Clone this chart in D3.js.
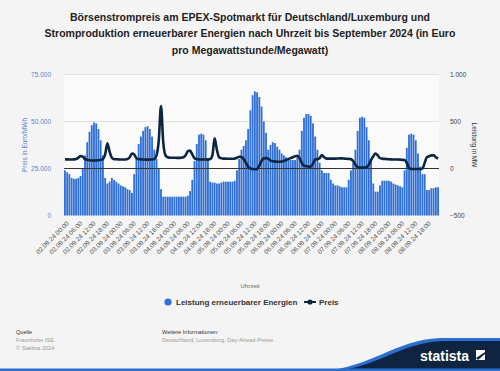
<!DOCTYPE html>
<meta charset="utf-8">
<style>
  body { margin: 0; background: #f4f4f4; font-family: "Liberation Sans", Arial, sans-serif; }
  svg text { font-family: "Liberation Sans", Arial, sans-serif; }
</style>
<script src="https://d3js.org/d3.v7.min.js"></script>
<body>
<script>
// days shown, hourly values
var days = ["02.09.24", "03.09.24", "04.09.24", "05.09.24", "06.09.24", "07.09.24", "08.09.24"];

// Leistung erneuerbarer Energien (left axis), one value per hour
var leistung = [
  24000, 23000, 22000, 20000, 19500, 19500, 20000, 21000, 25000, 32000, 39000, 44500, 48000, 49500, 49000, 46000, 40000, 32000, 20000, 17000, 18000, 20000, 19000, 18000,
  17000, 16000, 15500, 15000, 14000, 13500, 12000, 22000, 30000, 38000, 42000, 45000, 47000, 47500, 46000, 42000, 35000, 30000, 25000, 14000, 10000, 10000, 10000, 10000,
  10000, 10000, 10000, 10000, 10000, 10000, 10000, 10500, 13000, 19000, 29000, 38000, 43000, 43500, 43000, 40000, 30000, 18000, 17500, 17500, 17000, 17000, 17500, 18000,
  18000, 18000, 18000, 18000, 18500, 24000, 30000, 35000, 37000, 40000, 46000, 56000, 64000, 66000, 65500, 63000, 58000, 50000, 44000, 35000, 37500, 39000, 38500, 36600,
  35000, 33000, 32000, 31000, 29500, 29500, 29500, 29500, 31000, 35000, 45000, 52000, 54000, 54000, 53000, 49000, 42000, 35000, 28000, 24000, 22600, 22600, 22600, 19000,
  17000, 16000, 16000, 15500, 15000, 15000, 15000, 19000, 24000, 28000, 35000, 45000, 52000, 52500, 52000, 47000, 40000, 30000, 17000, 12700, 12700, 16000, 18500, 18500,
  18500, 18500, 18000, 17000, 16500, 16000, 15500, 15000, 24000, 36000, 43000, 43500, 43000, 40000, 33000, 26000, 22000, 22000, 13500, 13500, 14500, 14500, 15000, 15000
];

// Preis (right axis), one value per hour
var preis = [
  98, 97, 96, 96, 97, 100, 115, 133, 125, 100, 92, 88, 85, 85, 86, 88, 92, 100, 150, 268, 180, 115, 100, 98,
  97, 96, 95, 96, 100, 120, 160, 150, 110, 100, 98, 96, 94, 94, 95, 96, 100, 140, 300, 665, 280, 140, 120, 115,
  115, 114, 113, 113, 115, 120, 140, 185, 190, 150, 110, 100, 97, 95, 95, 96, 97, 100, 140, 320, 200, 120, 108, 105,
  105, 104, 104, 104, 106, 115, 125, 122, 100, 60, 20, 0, -5, -8, -5, 30, 80, 108, 110, 105, 85, 78, 75, 72,
  72, 75, 80, 90, 100, 110, 120, 130, 135, 110, 60, 30, 25, 20, 20, 50, 96, 100, 110, 144, 120, 105, 105, 105,
  105, 105, 106, 108, 108, 105, 104, 102, 100, 80, 40, 15, 10, 10, 12, 15, 40, 90, 130, 160, 140, 110, 105, 102,
  100, 98, 97, 96, 95, 95, 94, 92, 90, 60, 5, -5, -5, -5, -5, -5, 0, 60, 120, 130, 140, 140, 120, 105
];

var leftTicks = [0, 25000, 50000, 75000];
var rightTicks = [-500, 0, 500, 1000];

var hours = [];
days.forEach(function(d) {
  for (var h = 0; h < 24; h++) hours.push(d + " " + (h < 10 ? "0" : "") + h + ":00");
});

var width = 500, height = 371;
var plot = {left: 64, right: 439, top: 74.5, bottom: 215.5};

var svg = d3.select("body").append("svg")
  .attr("width", width)
  .attr("height", height);

svg.append("rect").attr("width", width).attr("height", height).attr("fill", "#f4f4f4");

// title
var title = ["Börsenstrompreis am EPEX-Spotmarkt für Deutschland/Luxemburg und",
  "Stromproduktion erneuerbarer Energien nach Uhrzeit bis September 2024 (in Euro",
  "pro Megawattstunde/Megawatt)"];
svg.append("g").selectAll("text").data(title).enter().append("text")
  .attr("x", 250)
  .attr("y", function(d, i) { return 20.5 + i * 16.6; })
  .attr("text-anchor", "middle")
  .attr("font-size", "10.5px")
  .attr("font-weight", "bold")
  .attr("fill", "#222")
  .text(function(d) { return d; });

var x = d3.scaleBand().domain(hours).range([plot.left, plot.right]).paddingInner(0.18);
var yL = d3.scaleLinear().domain([0, 75000]).range([plot.bottom, plot.top]);
var yR = d3.scaleLinear().domain([-500, 1000]).range([plot.bottom, plot.top]);

// plot background
svg.append("rect")
  .attr("x", plot.left).attr("y", plot.top)
  .attr("width", plot.right - plot.left).attr("height", plot.bottom - plot.top)
  .attr("fill", "#fafafa");

// grid
svg.append("g").selectAll("line").data([50000, 75000]).enter().append("line")
  .attr("x1", plot.left).attr("x2", plot.right)
  .attr("y1", function(d) { return yL(d); }).attr("y2", function(d) { return yL(d); })
  .attr("stroke", "#e2e2e2").attr("stroke-width", 1);

// bars
svg.append("g").selectAll("rect").data(leistung).enter().append("rect")
  .attr("x", function(d, i) { return x(hours[i]); })
  .attr("width", x.bandwidth())
  .attr("y", function(d) { return yL(d); })
  .attr("height", function(d) { return yL(0) - yL(d); })
  .attr("fill", "#2f6fd6");

// zero line of price axis
svg.append("line")
  .attr("x1", plot.left).attr("x2", plot.right)
  .attr("y1", yR(0)).attr("y2", yR(0))
  .attr("stroke", "#333").attr("stroke-width", 1);

// price line
var line = d3.line()
  .x(function(d, i) { return x(hours[i]) + x.bandwidth() / 2; })
  .y(function(d) { return yR(d); })
  .curve(d3.curveMonotoneX);
svg.append("path").datum(preis)
  .attr("d", line)
  .attr("fill", "none")
  .attr("stroke", "#0d2640")
  .attr("stroke-width", 2.6)
  .attr("stroke-linejoin", "round");

// left axis
var axL = svg.append("g").attr("transform", "translate(" + (plot.left - 10) + ",0)")
  .call(d3.axisLeft(yL).tickValues(leftTicks).tickSize(0)
    .tickFormat(function(d) { return d3.format(",")(d).replace(/,/g, "."); }));
axL.select(".domain").remove();
axL.selectAll("text").attr("font-size", "6.5px").attr("fill", "#5b82c9").attr("font-family", null);

svg.append("text")
  .attr("transform", "translate(27,145) rotate(-90)")
  .attr("text-anchor", "middle")
  .attr("font-size", "6.5px")
  .attr("fill", "#5b82c9")
  .text("Preis in Euro/MWh");

// right axis
var axR = svg.append("g").attr("transform", "translate(" + (plot.right + 8) + ",0)")
  .call(d3.axisRight(yR).tickValues(rightTicks).tickSize(0)
    .tickFormat(function(d) { return d3.format(",")(d).replace(/,/g, "."); }));
axR.select(".domain").remove();
axR.selectAll("text").attr("font-size", "6.5px").attr("fill", "#444").attr("font-family", null);

svg.append("text")
  .attr("transform", "translate(472,145) rotate(90)")
  .attr("text-anchor", "middle")
  .attr("font-size", "6.5px")
  .attr("fill", "#233")
  .text("Leistung in MW");

// x axis labels every 6 hours
var xLabels = hours.filter(function(d, i) { return i % 6 === 0; });
var axX = svg.append("g").attr("transform", "translate(0," + (plot.bottom + 4) + ")")
  .call(d3.axisBottom(x).tickValues(xLabels).tickSize(0));
axX.select(".domain").remove();
axX.selectAll("text")
  .attr("font-size", "6.5px")
  .attr("fill", "#555")
  .attr("font-family", null)
  .attr("text-anchor", "end")
  .attr("dx", "0")
  .attr("dy", "0.5em")
  .attr("transform", "rotate(-45)");

svg.append("text")
  .attr("x", 250).attr("y", 288)
  .attr("text-anchor", "middle")
  .attr("font-size", "6px")
  .attr("fill", "#666")
  .text("Uhrzeit");

// legend
var leg = svg.append("g");
leg.append("circle").attr("cx", 168).attr("cy", 302).attr("r", 3.6).attr("fill", "#2f6fd6");
leg.append("text").attr("x", 176).attr("y", 305.2).attr("font-size", "8px").attr("font-weight", "bold")
  .attr("fill", "#333").text("Leistung erneuerbarer Energien");
leg.append("line").attr("x1", 304).attr("x2", 316).attr("y1", 302).attr("y2", 302)
  .attr("stroke", "#0d2640").attr("stroke-width", 2);
leg.append("circle").attr("cx", 310).attr("cy", 302).attr("r", 2.6).attr("fill", "#0d2640");
leg.append("text").attr("x", 319).attr("y", 305.2).attr("font-size", "8px").attr("font-weight", "bold")
  .attr("fill", "#333").text("Preis");

// footer
var foot = svg.append("g").attr("font-size", "5.6px");
foot.append("text").attr("x", 16).attr("y", 334).attr("fill", "#333").text("Quelle");
foot.append("text").attr("x", 16).attr("y", 342).attr("fill", "#999").text("Fraunhofer ISE");
foot.append("text").attr("x", 16).attr("y", 350).attr("fill", "#999").text("© Statista 2024");
foot.append("text").attr("x", 162).attr("y", 334).attr("fill", "#333").text("Weitere Informationen:");
foot.append("text").attr("x", 162).attr("y", 342).attr("fill", "#999").text("Deutschland; Luxemburg; Day-Ahead-Preise");

// statista logo
svg.append("path")
  .attr("d", "M322,371 C370,368 395,340 440,338 L500,338 L500,371 Z")
  .attr("fill", "#2a6fd0");
svg.append("path")
  .attr("d", "M332,371 C378,368 400,342 444,341 L500,341 L500,371 Z")
  .attr("fill", "#0f2440");
svg.append("rect").attr("x", 0).attr("y", 368.5).attr("width", 500).attr("height", 2.5).attr("fill", "#2a6fd0");
svg.append("text").attr("x", 420).attr("y", 361).attr("font-size", "14px").attr("font-weight", "bold")
  .attr("fill", "#fff").text("statista");
svg.append("path")
  .attr("d", "M476,350 L485,350 L485,360 L476,360 Z")
  .attr("fill", "#fff");
svg.append("path")
  .attr("d", "M476,358 L485,352 L485,354 L478,360 Z")
  .attr("fill", "#0f2440");
</script>
</body>
